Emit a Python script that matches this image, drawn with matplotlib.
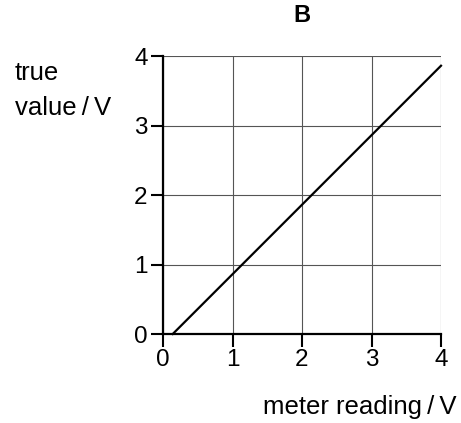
import matplotlib.pyplot as plt

plt.rcParams['font.family'] = ['Liberation Sans', 'DejaVu Sans']

# line data (meter reading vs true value)
meter_reading = [0.14, 4.0]
true_value = [0.0, 3.86]
ticks = [0, 1, 2, 3, 4]

fig = plt.figure(figsize=(4.61, 4.23), dpi=100)
ax = fig.add_axes([163 / 461, 89 / 423, 278 / 461, 278 / 423])

ax.plot(meter_reading, true_value, color='black', lw=1.6, clip_on=False)

ax.set_xlim(0, 4)
ax.set_ylim(0, 4)
ax.set_xticks(ticks)
ax.set_yticks(ticks)
ax.tick_params(labelsize=17.5, length=9, width=1.5, direction='out', pad=2)
ax.grid(True, color='#555555', lw=0.8)
ax.set_axisbelow(True)

for s in ['top', 'right']:
    ax.spines[s].set_visible(False)
for s in ['left', 'bottom']:
    ax.spines[s].set_linewidth(1.6)

# axis labels placed like the original (left of the y axis, under the x axis)
fig.text(15 / 461, 1 - 115 / 423, 'true\nvalue\u2009/\u2009V', ha='left', va='baseline',
         fontsize=18.5, linespacing=1.6)
fig.text(456 / 461, 1 - 414 / 423, 'meter reading\u2009/\u2009V', ha='right',
         va='baseline', fontsize=18.5)
fig.text(302 / 461, 1 - 16 / 423, 'B', ha='center', va='center',
         fontsize=17, fontweight='bold')

fig.savefig('out.png', dpi=100, facecolor='white')
